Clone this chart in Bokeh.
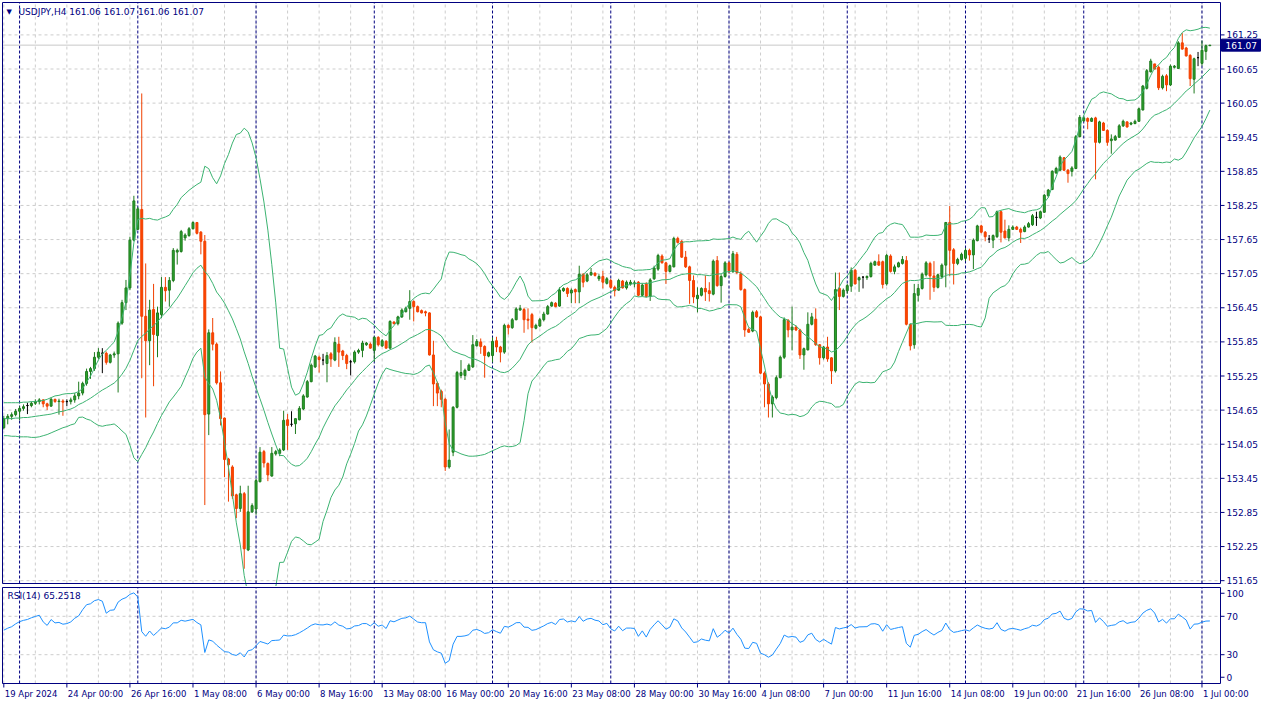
import datetime as dt
import numpy as np
from bokeh.plotting import figure
from bokeh.models import Range1d, ColumnDataSource
from bokeh.core.properties import value
from bokeh.layouts import column
from bokeh.embed import file_html
from bokeh.resources import INLINE

# ---------------- data ----------------
symbol_title = "USDJPY,H4  161.06 161.07 161.06 161.07"
rsi_title = "RSI(14) 65.2518"
first_bar = dt.datetime(2024, 4, 19, 8)
time_labels = ["19 Apr 2024", "24 Apr 00:00", "26 Apr 16:00", "1 May 08:00", "6 May 00:00",
               "8 May 16:00", "13 May 08:00", "16 May 00:00", "20 May 16:00", "23 May 08:00",
               "28 May 00:00", "30 May 16:00", "4 Jun 08:00", "7 Jun 00:00", "11 Jun 16:00",
               "14 Jun 08:00", "19 Jun 00:00", "21 Jun 16:00", "26 Jun 08:00", "1 Jul 00:00"]
price_ticks = [151.65, 152.25, 152.85, 153.45, 154.05, 154.65, 155.25, 155.85, 156.45,
               157.05, 157.65, 158.25, 158.85, 159.45, 160.05, 160.65, 161.25]
rsi_grid_levels = [70, 30]
rsi_label_levels = [94, 70, 30, 6.5]
rsi_label_texts = ["100", "70", "30", "0"]

open_ = [
154.34,154.50,154.54,154.57,154.63,154.68,154.73,154.73,154.77,154.80,
154.83,154.76,154.72,154.84,154.80,154.81,154.80,154.80,154.83,154.90,
154.95,155.12,155.33,155.38,155.58,155.65,155.65,155.49,155.62,155.64,
156.18,156.54,156.80,157.64,157.83,158.18,156.30,155.87,156.42,155.96,
156.33,156.81,156.76,156.93,157.43,157.44,157.68,157.72,157.84,157.95,
157.78,157.62,154.58,156.01,155.81,155.13,154.51,153.79,153.65,153.16,
152.92,153.18,152.19,152.86,152.91,153.39,153.92,153.71,153.49,153.88,
153.89,153.95,154.48,154.40,154.41,154.48,154.67,154.88,155.15,155.41,
155.58,155.53,155.47,155.64,155.53,155.81,155.69,155.61,155.50,155.50,
155.67,155.70,155.80,155.81,155.70,155.93,155.78,155.86,155.74,156.20,
156.17,156.29,156.38,156.44,156.56,156.47,156.40,156.38,156.36,155.62,
155.12,154.98,154.84,153.65,153.91,154.70,155.26,155.26,155.35,155.41,
155.78,155.85,155.77,155.60,155.61,155.87,155.76,155.67,156.14,156.10,
156.24,156.41,156.42,156.25,156.33,156.09,156.13,156.24,156.34,156.48,
156.53,156.48,156.75,156.79,156.71,156.77,156.73,157.04,156.92,157.03,
157.06,156.96,157.00,156.88,156.93,156.81,156.76,156.92,156.80,156.87,
156.87,156.90,156.67,156.87,156.65,156.96,157.13,157.36,157.24,157.09,
157.17,157.67,157.62,157.34,157.17,156.93,156.61,156.67,156.79,156.75,
156.69,157.28,156.84,157.00,157.24,157.09,157.39,157.05,156.77,156.07,
156.04,156.38,156.29,155.30,155.11,154.76,154.87,155.22,155.58,156.23,
156.06,156.11,156.06,155.62,155.71,156.16,156.25,155.80,155.57,155.76,
155.57,155.34,156.79,156.65,156.75,156.83,157.11,156.94,156.99,156.98,
157.00,157.20,157.26,157.26,156.87,157.36,157.09,157.17,157.23,157.28,
156.16,155.80,156.67,156.79,157.03,157.23,157.01,156.81,157.00,157.20,
157.95,157.47,157.23,157.30,157.32,157.46,157.38,157.63,157.89,157.78,
157.66,157.64,157.70,158.14,157.80,157.68,157.83,157.87,157.83,157.79,
157.87,157.91,158.04,158.03,158.13,158.42,158.53,158.82,158.87,159.09,
158.87,158.85,158.90,159.46,159.74,159.78,159.73,159.79,159.36,159.70,
159.57,159.39,159.40,159.45,159.65,159.72,159.68,159.69,159.73,159.93,
160.31,160.60,160.74,160.68,160.32,160.53,160.37,160.68,160.66,161.11,
161.02,160.89,160.47,160.85,160.75,160.96,161.06]

high = [
154.55,154.58,154.61,154.67,154.72,154.75,154.78,154.80,154.84,154.86,
154.84,154.78,154.87,154.85,154.85,154.84,154.84,154.87,154.95,155.15,
155.15,155.38,155.41,155.67,155.74,155.74,155.68,155.64,155.68,156.21,
156.59,156.94,157.70,158.42,158.22,160.22,157.23,156.59,156.87,156.47,
156.99,156.99,156.99,157.50,157.49,157.82,157.76,157.87,157.97,157.96,
157.80,157.73,156.07,156.27,155.84,155.33,154.52,153.81,153.68,153.18,
153.32,153.21,153.32,153.01,153.44,154.00,153.95,153.73,154.00,153.95,
153.98,154.64,154.58,154.63,154.50,154.72,154.93,155.18,155.47,155.62,
155.61,155.64,155.67,155.67,155.93,155.94,155.71,155.64,155.53,155.70,
155.73,155.87,155.85,155.84,155.95,155.95,155.90,155.88,156.23,156.21,
156.31,156.44,156.47,156.76,156.58,156.49,156.42,156.40,156.37,155.87,
155.15,155.01,154.87,154.31,154.72,155.34,155.53,155.38,155.47,155.97,
155.90,155.91,155.79,155.68,155.93,155.94,155.78,156.17,156.16,156.27,
156.46,156.50,156.45,156.44,156.36,156.17,156.27,156.38,156.50,156.56,
156.55,156.81,156.81,156.81,156.79,156.79,157.19,157.06,157.06,157.15,
157.07,157.04,157.10,156.99,156.96,156.84,156.96,156.94,156.93,156.94,
156.93,156.92,156.88,156.90,156.97,157.19,157.40,157.39,157.26,157.21,
157.70,157.70,157.64,157.45,157.19,157.02,156.81,156.81,157.02,156.90,
157.30,157.36,157.04,157.27,157.26,157.45,157.43,157.09,156.79,156.10,
156.40,156.41,156.31,155.33,155.14,154.91,155.26,155.61,156.28,156.25,
156.47,156.14,156.08,155.75,156.37,156.36,156.44,155.81,155.78,155.94,
155.58,157.07,157.07,156.79,156.87,157.16,157.13,157.00,157.00,157.02,
157.26,157.28,157.39,157.28,157.40,157.39,157.21,157.26,157.36,157.36,
156.17,156.87,156.87,157.07,157.27,157.26,157.27,157.05,157.23,157.96,
158.24,157.50,157.33,157.42,157.50,157.49,157.67,157.91,157.91,157.80,
157.73,157.74,158.16,158.16,158.00,157.90,157.90,157.89,157.86,157.90,
157.96,158.10,158.14,158.16,158.45,158.54,158.87,158.93,159.13,159.10,
158.89,158.94,159.49,159.84,159.82,159.80,159.80,159.81,159.74,159.72,
159.59,159.50,159.49,159.68,159.76,159.73,159.72,159.76,159.97,160.37,
160.65,160.83,160.74,160.71,160.55,160.56,160.73,160.72,161.14,161.28,
161.04,160.91,160.85,160.95,161.15,161.08,161.07]

low = [
154.31,154.40,154.48,154.54,154.47,154.64,154.58,154.70,154.74,154.75,
154.70,154.65,154.71,154.78,154.57,154.55,154.72,154.75,154.78,154.84,
154.91,155.08,155.20,155.34,155.55,155.30,155.45,155.47,155.57,154.96,
156.15,156.41,156.76,157.62,157.82,155.21,154.52,155.44,155.07,155.58,
156.27,156.56,156.47,156.90,157.21,157.42,157.63,157.70,157.83,157.74,
157.39,152.98,154.21,155.70,155.10,154.38,153.47,153.04,153.09,152.75,
152.86,151.86,152.17,152.84,152.81,153.38,153.64,153.40,153.48,153.85,
153.84,153.93,153.95,154.36,154.23,154.47,154.65,154.87,155.14,155.39,
155.31,155.44,155.14,155.41,155.51,155.41,155.53,155.37,155.26,155.47,
155.64,155.58,155.78,155.73,155.50,155.77,155.76,155.73,155.73,156.16,
156.14,156.27,156.37,156.24,156.21,156.37,156.35,156.30,155.61,154.72,
154.72,154.70,153.58,153.62,153.84,154.68,155.21,155.18,155.34,155.39,
155.77,155.64,155.22,155.58,155.49,155.67,155.49,155.64,155.98,156.08,
156.23,156.40,156.01,156.07,155.84,156.07,156.11,156.21,156.33,156.47,
156.46,156.47,156.73,156.64,156.53,156.53,156.53,156.81,156.90,157.01,
157.00,156.92,156.79,156.86,156.79,156.65,156.75,156.79,156.77,156.84,
156.81,156.65,156.65,156.63,156.57,156.94,157.10,157.23,156.87,157.07,
157.16,157.58,157.33,157.15,156.52,156.53,156.37,156.65,156.57,156.56,
156.67,156.82,156.54,156.98,157.06,157.06,157.04,156.75,155.94,156.01,
156.02,156.27,155.28,154.70,154.52,154.52,154.84,155.21,155.55,155.93,
155.70,156.04,155.55,155.36,155.70,156.14,155.78,155.45,155.54,155.50,
155.11,155.31,156.41,156.63,156.70,156.73,156.86,156.73,156.79,156.94,
156.98,157.19,157.19,156.79,156.84,157.07,157.04,157.16,157.21,156.14,
155.70,155.73,156.56,156.77,157.00,156.59,156.73,156.79,156.96,156.81,
157.01,156.86,157.20,157.28,157.27,157.28,157.13,157.62,157.76,157.62,
157.59,157.50,157.68,157.60,157.67,157.62,157.82,157.82,157.59,157.78,
157.86,157.89,157.89,158.01,158.12,158.39,158.52,158.81,158.86,158.86,
158.65,158.76,158.89,159.45,159.72,159.59,159.72,158.71,159.34,159.56,
159.30,159.16,159.39,159.44,159.63,159.62,159.66,159.68,159.72,159.92,
160.29,160.59,160.64,160.28,160.29,160.26,160.35,160.66,160.65,160.99,
160.87,160.35,160.22,160.70,160.71,160.81,161.06]

close_ = [
154.50,154.54,154.57,154.63,154.68,154.71,154.73,154.77,154.80,154.83,
154.76,154.72,154.84,154.80,154.81,154.79,154.80,154.83,154.90,154.95,
155.12,155.33,155.38,155.58,155.67,155.65,155.49,155.62,155.64,156.18,
156.54,156.80,157.64,158.33,158.19,156.30,155.87,156.41,155.98,156.36,
156.81,156.75,156.93,157.46,157.46,157.79,157.73,157.84,157.95,157.76,
157.62,154.57,156.01,155.81,155.13,154.50,153.78,153.69,153.14,152.92,
153.18,152.21,152.86,152.97,153.41,153.91,153.72,153.51,153.89,153.92,
153.95,154.47,154.38,154.40,154.50,154.68,154.90,155.15,155.44,155.60,
155.54,155.53,155.61,155.55,155.84,155.67,155.61,155.47,155.50,155.67,
155.70,155.83,155.83,155.74,155.93,155.80,155.87,155.74,156.21,156.17,
156.29,156.41,156.44,156.56,156.47,156.38,156.36,156.36,155.62,155.11,
154.95,154.84,153.65,153.77,154.70,155.31,155.31,155.35,155.44,155.80,
155.86,155.77,155.61,155.66,155.86,155.76,155.67,156.14,156.10,156.24,
156.43,156.44,156.24,156.23,156.10,156.14,156.24,156.34,156.47,156.54,
156.47,156.76,156.79,156.70,156.76,156.73,157.04,156.90,157.03,157.07,
157.02,157.00,156.90,156.96,156.81,156.75,156.93,156.80,156.90,156.90,
156.89,156.67,156.85,156.65,156.94,157.15,157.37,157.24,157.09,157.19,
157.67,157.60,157.34,157.17,156.93,156.64,156.67,156.79,156.73,156.70,
157.27,156.84,157.00,157.24,157.10,157.40,157.07,156.77,156.06,156.02,
156.37,156.29,155.30,155.11,154.76,154.88,155.22,155.58,156.24,156.06,
156.11,156.06,155.62,155.73,156.16,156.29,155.80,155.57,155.76,155.55,
155.34,156.77,156.65,156.76,156.84,157.11,156.87,156.98,156.99,157.00,
157.23,157.26,157.20,156.86,157.37,157.09,157.17,157.24,157.30,156.16,
155.78,156.70,156.79,157.04,157.24,157.01,156.81,157.03,157.20,157.95,
157.46,157.23,157.30,157.39,157.46,157.38,157.64,157.89,157.78,157.70,
157.66,157.72,158.14,157.78,157.68,157.83,157.87,157.83,157.78,157.87,
157.93,158.07,158.04,158.14,158.43,158.52,158.85,158.90,159.10,158.87,
158.81,158.91,159.46,159.80,159.79,159.73,159.78,159.36,159.72,159.57,
159.36,159.42,159.46,159.65,159.73,159.63,159.70,159.73,159.95,160.35,
160.62,160.79,160.65,160.32,160.52,160.37,160.70,160.70,161.11,161.00,
160.88,160.48,160.83,160.85,160.98,161.06,161.07]

# Bollinger band values of the first 19 bars (their history lies left of the chart)
bb_upper_head = [154.78,154.78,154.78,154.78,154.78,154.79,154.79,154.80,154.80,154.81,
                 154.82,154.84,154.87,154.90,154.91,154.93,154.94,154.94,154.95]
bb_mid_head = [154.50,154.50,154.50,154.51,154.51,154.52,154.52,154.53,154.54,154.55,
               154.56,154.57,154.58,154.60,154.62,154.63,154.65,154.67,154.70]
bb_lower_head = [154.20,154.20,154.19,154.19,154.18,154.18,154.18,154.17,154.17,154.18,
                 154.20,154.22,154.25,154.28,154.31,154.34,154.36,154.39,154.41]
rsi_seed_gain, rsi_seed_loss = 0.035, 0.028
BB_PERIOD, BB_DEV, RSI_PERIOD = 20, 2.0, 14

# ---------------- derived ----------------
o = np.array(open_); h = np.array(high); l = np.array(low); c = np.array(close_)
h = np.maximum(h, np.maximum(o, c)); l = np.minimum(l, np.minimum(o, c))
n = len(c)
x = np.arange(n)

times = []
t = first_bar
while len(times) < n:
    if t.weekday() < 5:
        times.append(t)
    t += dt.timedelta(hours=4)
week_starts = [i for i, tt in enumerate(times) if tt.weekday() == 0 and tt.hour == 0]

bb_up = np.empty(n); bb_mid = np.empty(n); bb_lo = np.empty(n)
for i in range(n):
    if i < BB_PERIOD - 1:
        bb_up[i], bb_mid[i], bb_lo[i] = bb_upper_head[i], bb_mid_head[i], bb_lower_head[i]
    else:
        w = c[i - BB_PERIOD + 1:i + 1]
        m, s = w.mean(), w.std()
        bb_mid[i], bb_up[i], bb_lo[i] = m, m + BB_DEV * s, m - BB_DEV * s

rsi = np.empty(n)
ag, al = rsi_seed_gain, rsi_seed_loss
rsi[0] = 100 * ag / (ag + al)
for i in range(1, n):
    ch = c[i] - c[i - 1]
    ag = (ag * (RSI_PERIOD - 1) + max(ch, 0)) / RSI_PERIOD
    al = (al * (RSI_PERIOD - 1) + max(-ch, 0)) / RSI_PERIOD
    rsi[i] = 100 * ag / (ag + al)

UPF, UPL = "#2CA52C", "#1E7A1E"
DNF, DNL = "#FF4500", "#F04000"
fills, lines = [], []
for oo, cc in zip(o, c):
    if cc > oo:
        fills.append(UPF); lines.append(UPL)
    elif cc < oo:
        fills.append(DNF); lines.append(DNL)
    else:
        fills.append("black"); lines.append("black")
src = ColumnDataSource(dict(x=x, o=o, h=h, l=l, c=c, top=np.maximum(o, c), bot=np.minimum(o, c),
                            fill=fills, line=lines))

# ---------------- geometry ----------------
NAVY = "#000080"
GRID = "#CDCDCD"
BB = "#3CB371"
FONT = value("DejaVu Sans")
FS = value("9px")
FSX = value("8.5px")
W = 1264
LEFT, RIGHT = 2, 44                 # px outside the chart box
XS, XE = -0.33, 308.7               # chart box in bar units
ppb = (W - LEFT - RIGHT) / (XE - XS)
XR = Range1d(XS - LEFT / ppb, XE + RIGHT / ppb)

H1 = 586
TOP1, BOT1 = 2, 3
YB, YT = 151.60, 161.82
ppp = (H1 - TOP1 - BOT1) / (YT - YB)

H2 = 118
TOP2, BOT2 = 1, 21
rpu = (H2 - TOP2 - BOT2) / 100.0


def base_fig(height, yr):
    f = figure(width=W, height=height, x_range=XR, y_range=yr, output_backend="svg",
               toolbar_location=None, x_axis_location=None, y_axis_location=None, min_border=0)
    f.outline_line_color = None
    f.grid.visible = False
    f.background_fill_color = "white"
    f.border_fill_color = "white"
    return f


# ---------------- main panel ----------------
p = base_fig(H1, Range1d(YB - BOT1 / ppp, YT + TOP1 / ppp))
gx = list(range(0, n, 8))
p.segment(x0=gx, y0=YB, x1=gx, y1=YT, line_color=GRID, line_dash="3 3", line_width=1)
p.segment(x0=XS, y0=price_ticks, x1=XE, y1=price_ticks, line_color=GRID, line_dash="3 3", line_width=1)
p.segment(x0=week_starts, y0=YB, x1=week_starts, y1=YT, line_color=NAVY, line_dash="3 2", line_width=1)
p.segment(x0=[XS], y0=[c[-1]], x1=[XE], y1=[c[-1]], line_color="#C8C8C8", line_width=1)

p.segment(x0="x", y0="l", x1="x", y1="h", line_color="line", line_width=1, source=src)
p.vbar(x="x", top="top", bottom="bot", width=0.5, fill_color="fill", line_color="line",
       line_width=1, source=src)
p.line(x, bb_up, line_color=BB, line_width=1)
p.line(x, bb_mid, line_color=BB, line_width=1)
p.line(x, bb_lo, line_color=BB, line_width=1)

# frame + right price scale
p.quad(left=[XS], right=[XE], bottom=[YB], top=[YT], fill_color=None, line_color=NAVY, line_width=1)
p.segment(x0=XE, y0=price_ticks, x1=XE + 4 / ppb, y1=price_ticks, line_color=NAVY, line_width=1)
p.text(x=XE + 6 / ppb, y=price_ticks, text=[f"{v:.2f}" for v in price_ticks], text_font=FONT,
       text_font_size=FS, text_color=NAVY, text_align="left", text_baseline="middle")
p.quad(left=[XE + 1 / ppb], right=[XE + 40 / ppb], bottom=[c[-1] - 6 / ppp], top=[c[-1] + 6 / ppp],
       fill_color=NAVY, line_color=NAVY)
p.text(x=[XE + 5 / ppb], y=[c[-1]], text=[f"{c[-1]:.2f}"], text_font=FONT, text_font_size=FS,
       text_color="white", text_align="left", text_baseline="middle")

# title
p.text(x=[XS + 4 / ppb], y=[YT - 5 / ppp], text=["▼"], text_font=FONT, text_font_size=value("7px"),
       text_color=NAVY, text_align="left", text_baseline="top")
p.text(x=[XS + 16 / ppb], y=[YT - 4 / ppp], text=[symbol_title], text_font=FONT, text_font_size=FS,
       text_color=NAVY, text_align="left", text_baseline="top")

# ---------------- RSI panel ----------------
p2 = base_fig(H2, Range1d(-BOT2 / rpu, 100 + TOP2 / rpu))
p2.segment(x0=gx, y0=0, x1=gx, y1=100, line_color=GRID, line_dash="3 3", line_width=1)
p2.segment(x0=XS, y0=rsi_grid_levels, x1=XE, y1=rsi_grid_levels, line_color=GRID, line_dash="3 3",
           line_width=1)
p2.segment(x0=week_starts, y0=0, x1=week_starts, y1=100, line_color=NAVY, line_dash="3 2", line_width=1)
p2.line(x, rsi, line_color="#1E90FF", line_width=1)
p2.quad(left=[XS], right=[XE], bottom=[0], top=[100], fill_color=None, line_color=NAVY, line_width=1)
p2.segment(x0=XE, y0=rsi_label_levels, x1=XE + 4 / ppb, y1=rsi_label_levels, line_color=NAVY, line_width=1)
p2.text(x=XE + 6 / ppb, y=rsi_label_levels, text=rsi_label_texts, text_font=FONT, text_font_size=FS,
        text_color=NAVY, text_align="left", text_baseline="middle")
p2.text(x=[XS + 5 / ppb], y=[100 - 3 / rpu], text=[rsi_title], text_font=FONT, text_font_size=FS,
        text_color=NAVY, text_align="left", text_baseline="top")

# time scale
tick_pos = list(range(0, n, 16))
p2.segment(x0=tick_pos, y0=0, x1=tick_pos, y1=-4 / rpu, line_color=NAVY, line_width=1)
p2.text(x=[tp + 1 / ppb for tp in tick_pos], y=-5 / rpu, text=time_labels, text_font=FONT,
        text_font_size=FSX, text_color=NAVY, text_align="left", text_baseline="top")

layout = column(p, p2, spacing=0)
open("out.html", "w").write(file_html(layout, INLINE))
